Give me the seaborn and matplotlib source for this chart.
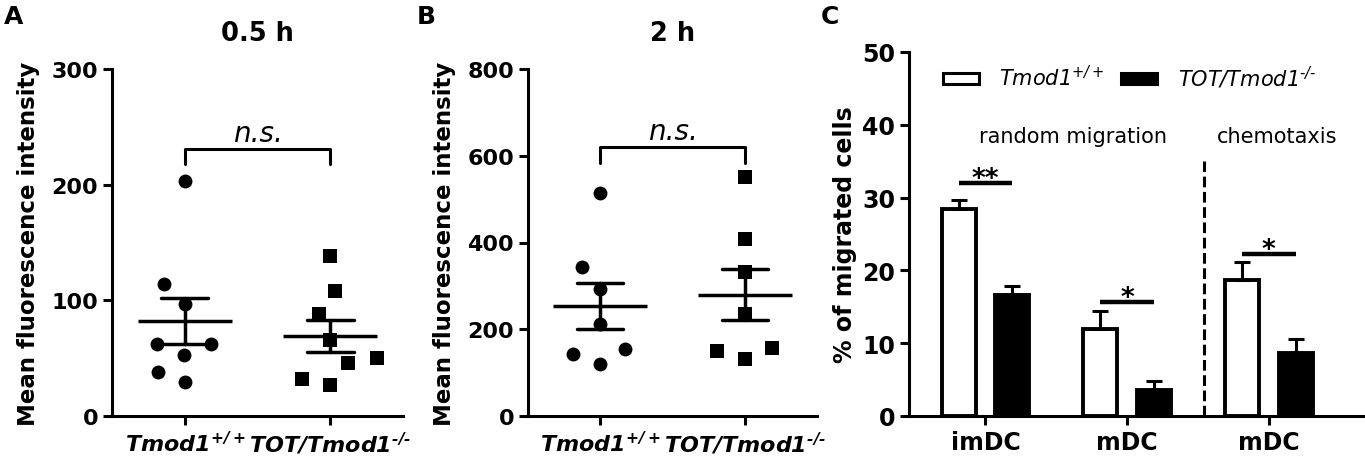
import numpy as np
import pandas as pd
import seaborn as sns
import matplotlib.pyplot as plt
import matplotlib.patches as mpatches

# --- data ---
groups = ["Tmod1+/+", "TOT/Tmod1-/-"]
group_labels = ["Tmod1$^{+/+}$", "TOT/Tmod1$^{\u2010/\u2010}$"]

# A: mean fluorescence intensity after 0.5 h
a_wt = [203, 114, 97, 62, 62, 53, 38, 29]
a_ko = [138, 108, 88, 66, 50, 46, 32, 27]
# B: mean fluorescence intensity after 2 h
b_wt = [515, 343, 293, 212, 154, 143, 120]
b_ko = [550, 408, 331, 235, 156, 149, 131]

# C: % of migrated cells (mean + SEM)
cells = ["imDC", "mDC", "mDC chemotaxis"]
cell_labels = ["imDC", "mDC", "mDC"]
c_wt = [28.5, 12.0, 18.7]
c_wt_sem = [1.2, 2.4, 2.4]
c_ko = [16.6, 3.6, 8.7]
c_ko_sem = [1.3, 1.2, 1.85]
stars = ["**", "*", "*"]
star_y = [32.0, 15.7, 22.2]

# --- style ---
sns.set_style("ticks")
plt.rcParams["font.family"] = "DejaVu Sans"
plt.rcParams["mathtext.default"] = "regular"
for key in ["text.color", "axes.labelcolor", "axes.edgecolor", "xtick.color", "ytick.color"]:
    plt.rcParams[key] = "black"
LW = 2.2

fig = plt.figure(figsize=(13.65, 4.6), dpi=100)
axA = fig.add_axes([112 / 1365, 43 / 460, 291 / 1365, 347 / 460])
axB = fig.add_axes([528 / 1365, 43 / 460, 289 / 1365, 347 / 460])
axC = fig.add_axes([909 / 1365, 43 / 460, 456 / 1365, 364 / 460])


def style_axes(ax, tick_size):
    sns.despine(ax=ax)
    for side in ["left", "bottom"]:
        ax.spines[side].set_linewidth(LW)
    ax.tick_params(width=LW, length=6.5, labelsize=tick_size)
    for lab in ax.get_yticklabels():
        lab.set_fontweight("bold")


def dot_panel(ax, wt, ko, ymax, title, bracket, ns_y):
    df = pd.DataFrame({
        "group": [groups[0]] * len(wt) + [groups[1]] * len(ko),
        "value": wt + ko,
    })
    # swarm laid out with wide markers (Prism-like spacing), shrunk afterwards
    for g, m in zip(groups, ["o", "s"]):
        sns.swarmplot(data=df[df["group"] == g], x="group", y="value", order=groups,
                      marker=m, color="black", size=20, linewidth=0, ax=ax)
    sns.pointplot(data=df, x="group", y="value", order=groups, errorbar="se",
                  capsize=0.32, color="black", marker="_", markersize=68,
                  markeredgewidth=2.5, linestyle="none",
                  err_kws={"linewidth": 2.5}, ax=ax)
    ax.plot([0, 0, 1, 1], [bracket[0], bracket[1], bracket[1], bracket[0]],
            color="black", lw=LW)
    ax.text(0.5, ns_y, "n.s.", ha="center", va="baseline", fontsize=20, style="italic")
    ax.set_xlim(-0.5, 1.5)
    ax.set_ylim(0, ymax)
    ax.set_yticks(np.linspace(0, ymax, 4 if ymax == 300 else 5))
    ax.set_xlabel("")
    ax.set_ylabel("Mean fluorescence intensity", fontsize=16.5, fontweight="bold",
                  labelpad=8.5)
    ax.set_title(title, fontsize=18.5, fontweight="bold", pad=21)
    ax.set_xticks([0, 1])
    ax.set_xticklabels(group_labels, fontsize=15.5, fontweight="bold", style="italic")
    style_axes(ax, 16)


dot_panel(axA, a_wt, a_ko, 300, "0.5 h", (218, 231), 238)
dot_panel(axB, b_wt, b_ko, 800, "2 h", (584, 620), 638)

# --- C: bars ---
df_c = pd.DataFrame({
    "cell": cells * 2,
    "genotype": [groups[0]] * 3 + [groups[1]] * 3,
    "pct": c_wt + c_ko,
})
sns.barplot(data=df_c, x="cell", y="pct", hue="genotype", order=cells, hue_order=groups,
            palette={groups[0]: "white", groups[1]: "black"}, edgecolor="black",
            linewidth=2.8, width=0.76, gap=0.37, errorbar=None, legend=False, ax=axC)

centers = []
for cont, sems in zip(axC.containers, [c_wt_sem, c_ko_sem]):
    xs = [b.get_x() + b.get_width() / 2 for b in cont]
    hs = [b.get_height() for b in cont]
    axC.errorbar(xs, hs, yerr=[np.zeros(len(sems)), sems], fmt="none", ecolor="black",
                 elinewidth=LW, capsize=6, capthick=LW)
    centers.append(xs)

for x0, x1, s, y in zip(centers[0], centers[1], stars, star_y):
    axC.plot([x0, x1], [y, y], color="black", lw=3.2, solid_capstyle="butt")
    axC.text((x0 + x1) / 2, y - 0.4, s, ha="center", va="baseline",
             fontsize=19, fontweight="bold")

axC.vlines(1.54, 0, 35, colors="black", linestyles=(0, (3.5, 1.5)), linewidth=LW)
axC.text(0.62, 38.5, "random migration", ha="center", va="center", fontsize=15)
axC.text(2.06, 38.5, "chemotaxis", ha="center", va="center", fontsize=15)

handles = [mpatches.Patch(facecolor="white", edgecolor="black", linewidth=LW),
           mpatches.Patch(facecolor="black", edgecolor="black", linewidth=LW)]
axC.legend(handles, group_labels, loc="center left", bbox_to_anchor=(0.075, 0.932),
           ncol=2, frameon=False, prop={"style": "italic", "size": 15},
           handlelength=1.7, handleheight=0.45, handletextpad=1.0,
           columnspacing=0.8, borderaxespad=0, borderpad=0)

axC.set_xlim(-0.54, 2.68)
axC.set_ylim(0, 50)
axC.set_yticks(range(0, 51, 10))
axC.set_xlabel("")
axC.set_ylabel("% of migrated cells", fontsize=17, fontweight="bold")
axC.set_xticks(range(3))
axC.set_xticklabels(cell_labels, fontsize=18, fontweight="bold")
style_axes(axC, 17)

# panel letters
for x, letter in [(0.003, "A"), (0.305, "B"), (0.601, "C")]:
    fig.text(x, 0.99, letter, ha="left", va="top", fontsize=18, fontweight="bold")

# fix the swarm layout, then draw the markers at their real size
fig.canvas.draw()
for ax in [axA, axB]:
    for coll in ax.collections:
        if "draw" in coll.__dict__:
            del coll.draw
        coll.set_sizes([100])

fig.savefig("out.png", dpi=100)
plt.close(fig)
